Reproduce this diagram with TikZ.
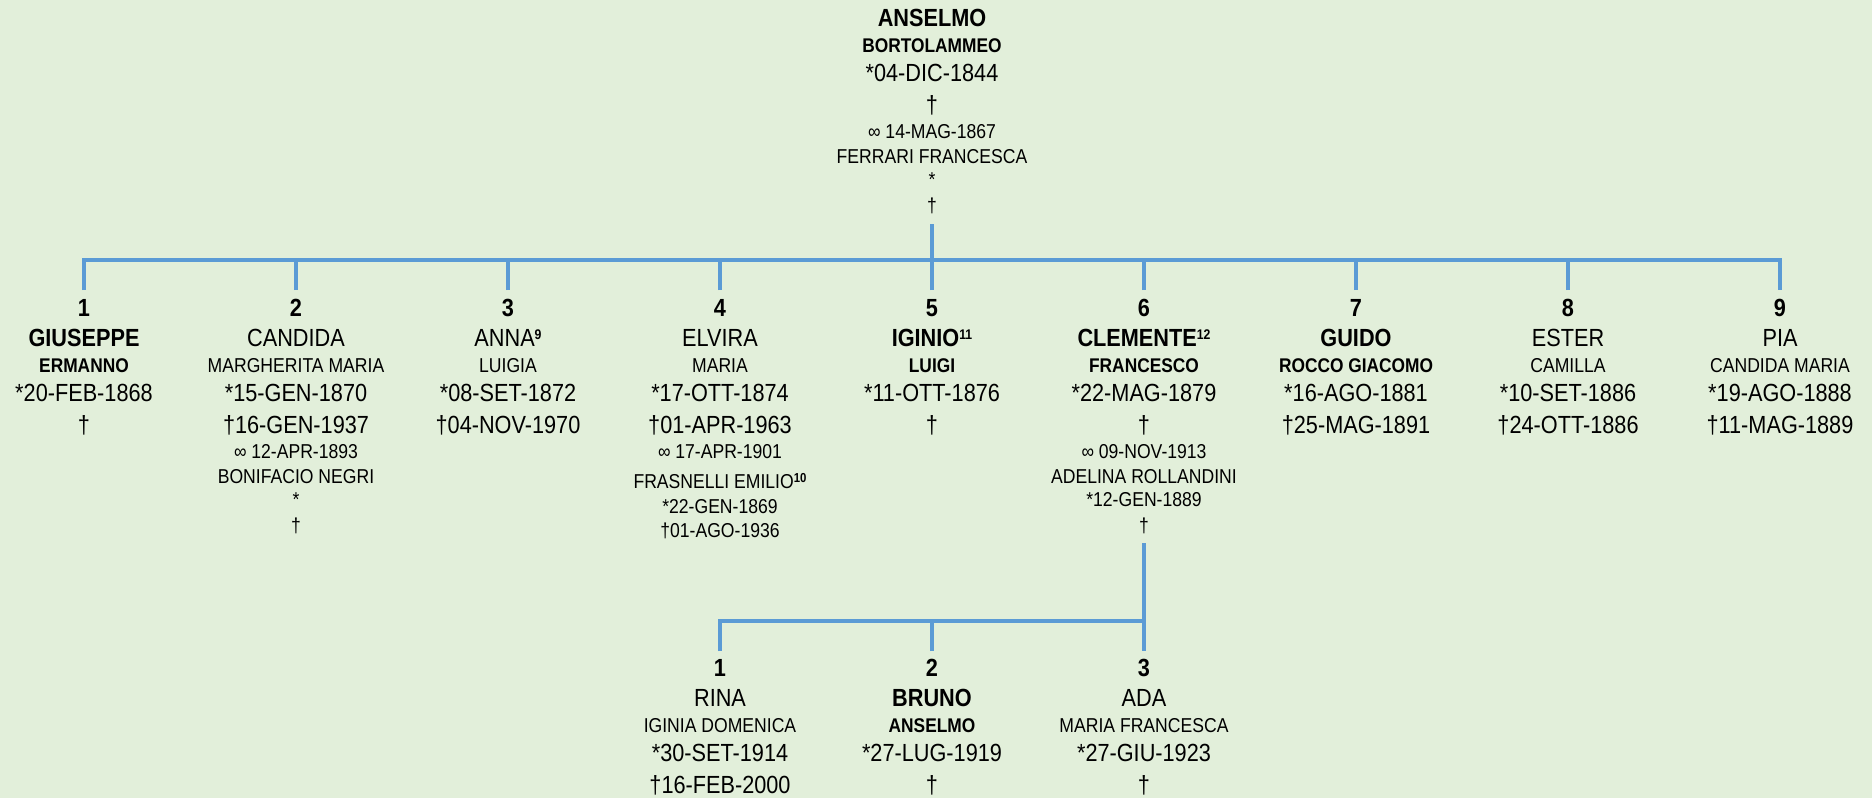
\documentclass[tikz,border=0pt]{standalone}
\usepackage{fontspec}
\setmainfont[FakeStretch=0.875]{Liberation Sans}
\definecolor{bg}{HTML}{E2EFDA}
\definecolor{ln}{HTML}{5B9BD5}
\newcommand{\supbig}[1]{\raisebox{7.5pt}{\fontsize{14}{14}\selectfont\bfseries #1}}
\newcommand{\supsm}[1]{\raisebox{6pt}{\fontsize{13}{13}\selectfont\bfseries #1}}
\begin{document}
\begin{tikzpicture}[x=1pt,y=-1pt,
  big/.style={anchor=base,inner sep=0pt,font=\fontsize{24.8}{24.8}\selectfont},
  bigb/.style={anchor=base,inner sep=0pt,font=\fontsize{24.8}{24.8}\selectfont\bfseries},
  sm/.style={anchor=base,inner sep=0pt,font=\fontsize{20.1}{20.1}\selectfont},
  smb/.style={anchor=base,inner sep=0pt,font=\fontsize{19.8}{19.8}\selectfont\bfseries},
  link/.style={draw=ln,line width=4pt,line join=miter}]
\fill[bg] (0,0) rectangle (1872,798);
\useasboundingbox (0,0) rectangle (1872,798);

% ---- ancestor
\node[bigb] (aName) at (932,26.7) {ANSELMO};
\node[smb]  (aSec)  at (932,52.5) {BORTOLAMMEO};
\node[big]  (aBirth) at (932,81.7) {*04-DIC-1844};
\node[big]  (aDeath) at (932,113) {†};
\node[sm]   (aMar)  at (932,138.3) {∞ 14-MAG-1867};
\node[sm]   (aSp)   at (932,163.3) {FERRARI FRANCESCA};
\node[sm]   (aSpB)  at (932,186.5) {*};
\node[sm]   (aSpD)  at (932,212) {†};

% ---- children
% 1
\node[bigb] (c1Num) at (84,316) {1};
\node[bigb] (c1Name) at (84,346.7) {GIUSEPPE};
\node[smb] (c1Sec) at (84,372.3) {ERMANNO};
\node[big] (c1Birth) at (84,401.7) {*20-FEB-1868};
\node[big] (c1Death) at (84,433) {†};
% 2
\node[bigb] (c2Num) at (296,316) {2};
\node[big] (c2Name) at (296,346.7) {CANDIDA};
\node[sm] (c2Sec) at (296,372.3) {MARGHERITA MARIA};
\node[big] (c2Birth) at (296,401.7) {*15-GEN-1870};
\node[big] (c2Death) at (296,433) {†16-GEN-1937};
\node[sm] (c2Mar) at (296,458.3) {∞ 12-APR-1893};
\node[sm] (c2Sp) at (296,483.3) {BONIFACIO NEGRI};
\node[sm] (c2SpB) at (296,506.5) {*};
\node[sm] (c2SpD) at (296,532) {†};
% 3
\node[bigb] (c3Num) at (508,316) {3};
\node[big] (c3Name) at (508,346.7) {ANNA\supbig{9}};
\node[sm] (c3Sec) at (508,372.3) {LUIGIA};
\node[big] (c3Birth) at (508,401.7) {*08-SET-1872};
\node[big] (c3Death) at (508,433) {†04-NOV-1970};
% 4
\node[bigb] (c4Num) at (720,316) {4};
\node[big] (c4Name) at (720,346.7) {ELVIRA};
\node[sm] (c4Sec) at (720,372.3) {MARIA};
\node[big] (c4Birth) at (720,401.7) {*17-OTT-1874};
\node[big] (c4Death) at (720,433) {†01-APR-1963};
\node[sm] (c4Mar) at (720,458.3) {∞ 17-APR-1901};
\node[sm] (c4Sp) at (720,488.3) {FRASNELLI EMILIO\supsm{10}};
\node[sm] (c4SpB) at (720,513.3) {*22-GEN-1869};
\node[sm] (c4SpD) at (720,537) {†01-AGO-1936};
% 5
\node[bigb] (c5Num) at (932,316) {5};
\node[bigb] (c5Name) at (932,346.7) {IGINIO\supbig{11}};
\node[smb] (c5Sec) at (932,372.3) {LUIGI};
\node[big] (c5Birth) at (932,401.7) {*11-OTT-1876};
\node[big] (c5Death) at (932,433) {†};
% 6
\node[bigb] (c6Num) at (1144,316) {6};
\node[bigb] (c6Name) at (1144,346.7) {CLEMENTE\supbig{12}};
\node[smb] (c6Sec) at (1144,372.3) {FRANCESCO};
\node[big] (c6Birth) at (1144,401.7) {*22-MAG-1879};
\node[big] (c6Death) at (1144,433) {†};
\node[sm] (c6Mar) at (1144,458.3) {∞ 09-NOV-1913};
\node[sm] (c6Sp) at (1144,483.3) {ADELINA ROLLANDINI};
\node[sm] (c6SpB) at (1144,506.7) {*12-GEN-1889};
\node[sm] (c6SpD) at (1144,532) {†};
% 7
\node[bigb] (c7Num) at (1356,316) {7};
\node[bigb] (c7Name) at (1356,346.7) {GUIDO};
\node[smb] (c7Sec) at (1356,372.3) {ROCCO GIACOMO};
\node[big] (c7Birth) at (1356,401.7) {*16-AGO-1881};
\node[big] (c7Death) at (1356,433) {†25-MAG-1891};
% 8
\node[bigb] (c8Num) at (1568,316) {8};
\node[big] (c8Name) at (1568,346.7) {ESTER};
\node[sm] (c8Sec) at (1568,372.3) {CAMILLA};
\node[big] (c8Birth) at (1568,401.7) {*10-SET-1886};
\node[big] (c8Death) at (1568,433) {†24-OTT-1886};
% 9
\node[bigb] (c9Num) at (1780,316) {9};
\node[big] (c9Name) at (1780,346.7) {PIA};
\node[sm] (c9Sec) at (1780,372.3) {CANDIDA MARIA};
\node[big] (c9Birth) at (1780,401.7) {*19-AGO-1888};
\node[big] (c9Death) at (1780,433) {†11-MAG-1889};

% ---- grandchildren
\node[bigb] (g1Num) at (720,676) {1};
\node[big] (g1Name) at (720,706.7) {RINA};
\node[sm] (g1Sec) at (720,732.3) {IGINIA DOMENICA};
\node[big] (g1Birth) at (720,761.7) {*30-SET-1914};
\node[big] (g1Death) at (720,793) {†16-FEB-2000};
\node[bigb] (g2Num) at (932,676) {2};
\node[bigb] (g2Name) at (932,706.7) {BRUNO};
\node[smb] (g2Sec) at (932,732.3) {ANSELMO};
\node[big] (g2Birth) at (932,761.7) {*27-LUG-1919};
\node[big] (g2Death) at (932,793) {†};
\node[bigb] (g3Num) at (1144,676) {3};
\node[big] (g3Name) at (1144,706.7) {ADA};
\node[sm] (g3Sec) at (1144,732.3) {MARIA FRANCESCA};
\node[big] (g3Birth) at (1144,761.7) {*27-GIU-1923};
\node[big] (g3Death) at (1144,793) {†};

% ---- connectors
\coordinate (aBot) at (932,224);
\coordinate (jA) at (932,260);
\coordinate (t1) at (84,290);
\coordinate (t2) at (296,290);
\coordinate (t3) at (508,290);
\coordinate (t4) at (720,290);
\coordinate (t5) at (932,290);
\coordinate (t6) at (1144,290);
\coordinate (t7) at (1356,290);
\coordinate (t8) at (1568,290);
\coordinate (t9) at (1780,290);
\draw[link] (t1) |- (jA) -| (t9);
\draw[link] (aBot) -- (jA);
\foreach \k in {2,...,8} { \draw[link] (t\k) -- (t\k |- jA); }

\coordinate (c6Bot) at (1144,543);
\coordinate (jB) at (1144,621);
\coordinate (u1) at (720,651);
\coordinate (u2) at (932,651);
\coordinate (u3) at (1144,651);
\draw[link] (c6Bot) -- (u3);
\draw[link] (u1) |- (jB);
\draw[link] (u2) -- (u2 |- jB);
\end{tikzpicture}
\end{document}
